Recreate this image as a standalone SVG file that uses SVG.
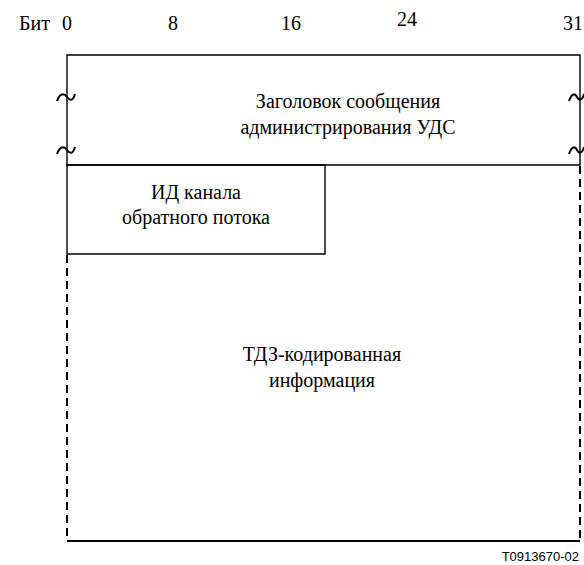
<svg xmlns="http://www.w3.org/2000/svg" width="584" height="565" viewBox="0 0 584 565">
  <style>
    .c { text-anchor: middle; }
    .solid { fill: none; stroke: #000; stroke-width: 1.4; }
    .dash { fill: none; stroke: #000; stroke-width: 2; stroke-dasharray: 8 5; }
    .tilde { fill: none; stroke: #000; stroke-width: 2; }
  </style>

  <g font-family="Liberation Serif" font-size="20" fill="#000">
    <!-- bit ruler -->
    <g id="ruler">
      <text x="19" y="30">Бит</text>
      <text class="c" x="67" y="30">0</text>
      <text class="c" x="173" y="30">8</text>
      <text class="c" x="291" y="30">16</text>
      <text class="c" x="407" y="26">24</text>
      <text class="c" x="573" y="30">31</text>
    </g>

    <!-- message header -->
    <g id="header">
      <path class="solid" d="M67,55 H580 V165 H67 Z"/>
      <text class="c" x="348" y="108">Заголовок сообщения</text>
      <text class="c" x="348" y="134">администрирования УДС</text>
      <path class="tilde" d="M57,101 C60,93 64,93 67,97 C70,101 73,101 75,94"/>
      <path class="tilde" d="M57,154 C60,146 64,146 67,150 C70,154 73,154 75,147"/>
      <path class="tilde" d="M569,101 C572,93 575,93 577,97 C579,101 582,101 584,94"/>
      <path class="tilde" d="M569,154 C572,146 575,146 577,150 C579,154 582,154 584,147"/>
    </g>

    <!-- upstream channel ID -->
    <g id="channel-id">
      <path class="solid" d="M67,165 H325 V254 H67 Z"/>
      <text class="c" x="196" y="199">ИД канала</text>
      <text class="c" x="196" y="224">обратного потока</text>
    </g>

    <!-- TLV-encoded information -->
    <g id="tlv">
      <path class="dash" d="M67,255 V541"/>
      <path class="dash" d="M580,166 V541"/>
      <path class="solid" d="M67,541 H580" style="stroke-width:2"/>
      <text class="c" x="322" y="361">ТДЗ-кодированная</text>
      <text class="c" x="322" y="387">информация</text>
    </g>
  </g>

  <text x="579" y="561" font-family="Liberation Sans" font-size="13" text-anchor="end" fill="#000">T0913670-02</text>
</svg>
